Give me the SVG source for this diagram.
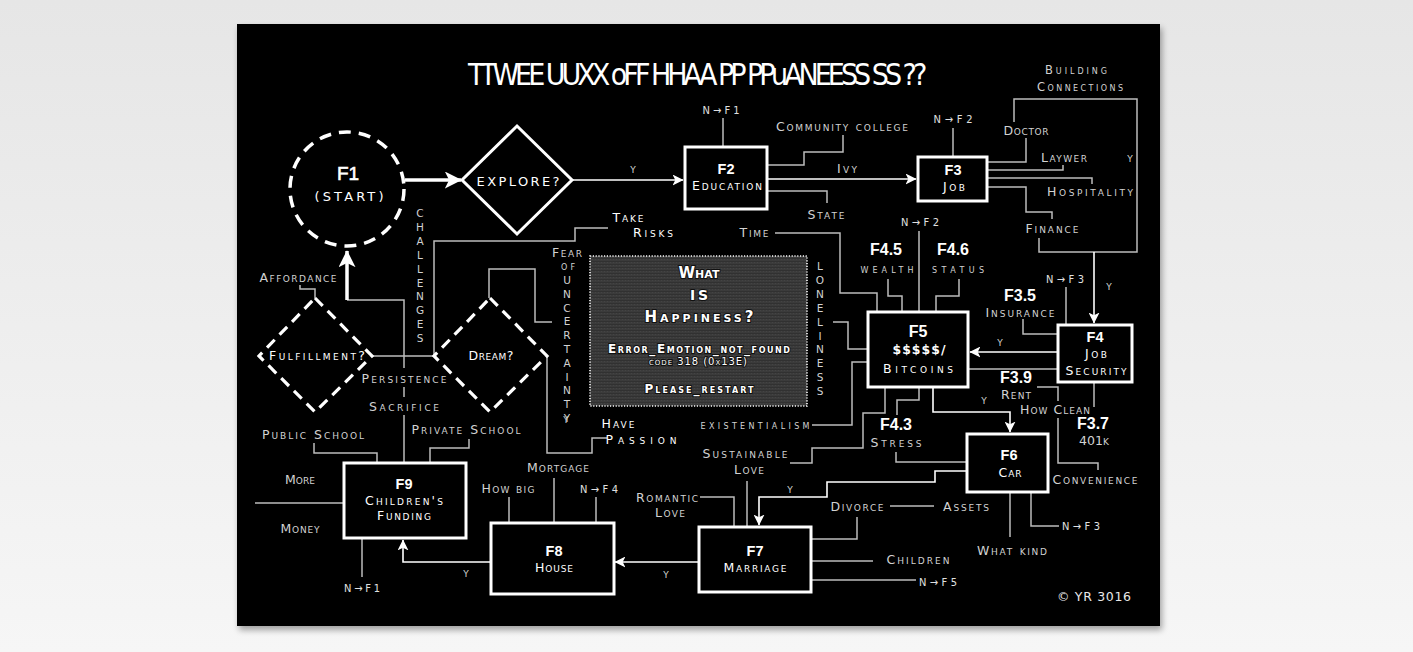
<svg xmlns="http://www.w3.org/2000/svg" width="1413" height="652" viewBox="0 0 1413 652">
<defs>
<linearGradient id="bg" x1="0" y1="0" x2="0" y2="1"><stop offset="0" stop-color="#e6e6e6"/><stop offset="1" stop-color="#f6f6f6"/></linearGradient>
<filter id="sh" x="-5%" y="-5%" width="110%" height="112%"><feGaussianBlur stdDeviation="3"/></filter>
<pattern id="tex" width="3" height="3" patternUnits="userSpaceOnUse"><rect width="3" height="3" fill="#3b3b3b"/><rect width="3" height="1" fill="#313131"/><rect x="1" y="1" width="1" height="1" fill="#444"/></pattern>
<marker id="ah" markerUnits="userSpaceOnUse" viewBox="0 0 10 10" markerWidth="11" markerHeight="11" refX="9.5" refY="5" orient="auto"><path d="M0,0 L10,5 L0,10 L2.5,5 Z" fill="#fff"/></marker>
<marker id="ahb" markerUnits="userSpaceOnUse" viewBox="0 0 10 10" markerWidth="17" markerHeight="17" refX="9.5" refY="5" orient="auto"><path d="M0,0 L10,5 L0,10 L2.5,5 Z" fill="#fff"/></marker>
<style>
.l{font-family:"DejaVu Sans",sans-serif;font-size:12.5px;font-variant:small-caps;fill:#d2d2d2;text-anchor:middle}
.w{fill:#fff}
.b{font-family:"Liberation Sans",Arial,sans-serif;font-weight:bold;font-size:16px;fill:#fff;text-anchor:middle}
.nb{font-family:"Liberation Sans",Arial,sans-serif;font-weight:bold;font-size:14.5px;fill:#fff;text-anchor:middle}
.n{font-family:"DejaVu Sans Condensed","DejaVu Sans",sans-serif;font-size:11px;fill:#e0e0e0;text-anchor:middle}
.v{font-family:"DejaVu Sans",sans-serif;font-size:10.5px;fill:#d2d2d2;text-anchor:middle}
.c{fill:none;stroke:#bcbcbc;stroke-width:1.5}
.a{fill:none;stroke:#fff;stroke-width:1.6;marker-end:url(#ah)}
.ab{fill:none;stroke:#fff;stroke-width:3.5;marker-end:url(#ahb)}
.box{fill:#000;stroke:#fff;stroke-width:3}
.dash{fill:#000;stroke:#fff;stroke-width:3.2;stroke-dasharray:11 7}
.h{font-family:"DejaVu Sans",sans-serif;font-weight:bold;font-variant:small-caps;fill:#fff;text-anchor:middle;stroke:#111;stroke-width:2;paint-order:stroke}
</style>
</defs>
<rect width="1413" height="652" fill="url(#bg)"/>
<rect x="239" y="28" width="923" height="602" fill="#000" opacity="0.35" filter="url(#sh)"/>
<rect x="237" y="24" width="923" height="602" fill="#000"/>

<text x="468" y="85" style="font-family:'DejaVu Sans Condensed','DejaVu Sans',sans-serif;font-size:30px;letter-spacing:-4px;fill:#fff">TTWEE UUXX oFF HHAA PP PPuANEESS SS ??</text>

<g id="connectors">
<path class="c" d="M723,118 V147"/>
<path class="c" d="M767,165 H804 V152 H843 V135"/>
<path class="c" d="M767,191 H827 V203"/>
<path class="c" d="M953,128 V157"/>
<path class="c" d="M987,162 H1026 V138"/>
<path class="c" d="M987,170 H1063 V165"/>
<path class="c" d="M987,178 H1092 V184"/>
<path class="c" d="M987,187 H1026 V212 H1052 V219"/>
<path class="c" d="M1014,122 V99 H1137 V252 H1039 V238"/>
<path class="a" d="M1094,252 V323"/>
<path class="c" d="M1066,287 V325"/>
<path class="c" d="M1023,319 V334 H1058"/>
<path class="a" d="M1058,352 H970"/>
<path class="c" d="M1058,369 H968"/>
<path class="c" d="M1037,387 H1058 V401 M1058,418 V463 H1098 V470"/>
<path class="c" d="M1094,382 V407"/>
<path class="c" d="M775,233 H840 V293 H877 V312"/>
<path class="c" d="M919,231 V312"/>
<path class="c" d="M888,279 V296 H902 V312"/>
<path class="c" d="M959,279 V296 H936 V312"/>
<path class="c" d="M833,322 H848 V349 H868"/>
<path class="c" d="M812,425 H852 V362 H868"/>
<path class="c" d="M790,463 H812 V448 H863 V413 H885 V387"/>
<path class="c" d="M919,387 V400 H897 V415"/>
<path class="c" d="M896,452 V462 H967"/>
<path class="a" d="M933,387 V412 H1010 V432"/>
<path class="a" d="M967,471 H935 V482 H827 V497 H759 V525"/>
<path class="c" d="M700,497 H734 V527"/>
<path class="c" d="M747,481 V527"/>
<path class="c" d="M811,539 H857 V517"/>
<path class="c" d="M890,506 H934"/>
<path class="c" d="M811,561 H873"/>
<path class="c" d="M811,580 H916"/>
<path class="c" d="M1010,492 V537"/>
<path class="c" d="M1031,492 V526 H1059"/>
<path class="a" d="M699,562 H615"/>
<path class="c" d="M509,497 V523"/>
<path class="c" d="M554,478 V523"/>
<path class="c" d="M596,497 V523"/>
<path class="a" d="M491,562 H403 V540"/>
<path class="c" d="M314,443 V453 H377 V463"/>
<path class="c" d="M469,439 V448 H430 V463"/>
<path class="c" d="M255,503 H344"/>
<path class="c" d="M362,538 V577"/>
<path class="c" d="M347,300 H404 V368 M404,387 V397 M404,415 V463"/>
<path class="ab" d="M347,300 V251"/>
<path class="c" d="M300,285 V289 H315 V298"/>
<path class="c" d="M372,356 H434 V241 H575 V228 H608"/>
<path class="c" d="M489,298 V269 H535 V322 H552"/>
<path class="c" d="M547,356 V453 H592 V438 H607"/>
<path class="a" d="M572,180 H683"/>
<path class="a" d="M767,179 H916"/>
<path class="ab" d="M405,180 H461"/>
</g>

<g id="F1"><circle cx="347" cy="189" r="57" fill="#000" stroke="#fff" stroke-width="3.5" stroke-dasharray="12 8"/>
<text x="348" y="180" class="b" style="font-size:19px;font-weight:normal;stroke:#fff;stroke-width:0.6">F1</text>
<text x="349" y="201" class="l w" style="font-size:13px;font-variant:normal" textLength="69">(START)</text></g>

<g id="explore"><polygon points="517,126 572,180 517,234 462,180" fill="#000" stroke="#fff" stroke-width="3"/>
<text x="518" y="186" class="l w" style="font-size:13px;font-variant:normal" textLength="83">EXPLORE?</text></g>

<g id="F2"><rect class="box" x="685" y="147" width="82" height="62"/>
<text x="726" y="174" class="nb">F2</text><text x="727" y="190" class="l w" textLength="70">Education</text></g>

<g id="F3"><rect class="box" x="918" y="157" width="69" height="44"/>
<text x="953" y="175" class="nb">F3</text><text x="954" y="191" class="l w" textLength="22">Job</text></g>

<g id="F4"><rect class="box" x="1058" y="325" width="74" height="57"/>
<text x="1095" y="342" class="nb">F4</text><text x="1096" y="358" class="l w" textLength="22">Job</text><text x="1096" y="375" class="l w" textLength="61">Security</text></g>

<g id="F5"><rect class="box" x="868" y="312" width="100" height="75"/>
<text x="918" y="337" class="b">F5</text><text x="919" y="354" class="l w" style="font-weight:bold" textLength="53">$$$$$/</text><text x="918" y="373" class="l w" textLength="70">Bitcoins</text></g>

<g id="F6"><rect class="box" x="967" y="434" width="81" height="58"/>
<text x="1009" y="460" class="nb">F6</text><text x="1010" y="477" class="l w" textLength="23">Car</text></g>

<g id="F7"><rect class="box" x="699" y="527" width="112" height="65"/>
<text x="755" y="556" class="nb">F7</text><text x="755" y="572" class="l w" textLength="63">Marriage</text></g>

<g id="F8"><rect class="box" x="491" y="523" width="123" height="71"/>
<text x="554" y="556" class="nb">F8</text><text x="554" y="572" class="l w" textLength="38">House</text></g>

<g id="F9"><rect class="box" x="344" y="463" width="122" height="75"/>
<text x="404" y="489" class="nb">F9</text><text x="404" y="505" class="l w" textLength="78">Children's</text><text x="404" y="520" class="l w" textLength="54">Funding</text></g>

<g id="fulfillment"><polygon class="dash" points="315,298 372,356 315,412 259,356"/>
<text x="317" y="360" class="l w" textLength="96">Fulfillment?</text></g>

<g id="dream"><polygon class="dash" points="490,298 547,356 490,412 434,356"/>
<text x="491" y="360" class="l w" textLength="45">Dream?</text></g>

<g id="happiness"><rect x="590" y="256" width="217" height="150" fill="url(#tex)" stroke="#fff" stroke-width="1.6" stroke-dasharray="1.2 1.6"/>
<text x="699" y="278" class="h" style="font-size:15px" textLength="41">What</text>
<text x="699" y="300" class="h" style="font-size:20px" textLength="18">is</text>
<text x="699" y="322" class="h" style="font-size:15px" textLength="109">Happiness?</text>
<text x="699" y="353" class="h" style="font-size:12px" textLength="182">Error_Emotion_not_found</text>
<text x="698" y="365" class="h" style="font-size:10px;font-weight:normal" textLength="98">code 318 (0x13E)</text>
<text x="699" y="393" class="h" style="font-size:12px" textLength="109">Please_restart</text></g>

<g id="labels">
<text x="721" y="114" class="n" textLength="37">N→F1</text>
<text x="842" y="131" class="l" textLength="132">Community college</text>
<text x="633" y="173" class="l" textLength="7">y</text>
<text x="847" y="173" class="l" textLength="20">Ivy</text>
<text x="826" y="219" class="l" textLength="37">State</text>
<text x="754" y="237" class="l" textLength="29">Time</text>
<text x="628" y="222" class="l w" textLength="31">Take</text>
<text x="653" y="237" class="l w" textLength="40">Risks</text>
<text x="953" y="123" class="n" textLength="39">N→F2</text>
<text x="1026" y="135" class="l" textLength="45">Doctor</text>
<text x="1064" y="162" class="l" textLength="46">Laywer</text>
<text x="1090" y="196" class="l" textLength="86">Hospitality</text>
<text x="1052" y="233" class="l" textLength="53">Finance</text>
<text x="1076" y="74" class="l" style="font-size:11.5px" textLength="62">Building</text>
<text x="1080" y="91" class="l" style="font-size:11.5px" textLength="86">Connections</text>
<text x="1130" y="162" class="l" textLength="6">y</text>
<text x="1109" y="290" class="l" textLength="6">y</text>
<text x="920" y="226" class="n" textLength="38">N→F2</text>
<text x="886" y="255" class="b">F4.5</text>
<text x="887" y="273" class="l" style="font-size:11px" textLength="53">wealth</text>
<text x="953" y="255" class="b">F4.6</text>
<text x="958" y="273" class="l" style="font-size:11px" textLength="52">status</text>
<text x="1065" y="283" class="n" textLength="38">N→F3</text>
<text x="1020" y="301" class="b">F3.5</text>
<text x="1020" y="317" class="l" textLength="69">Insurance</text>
<text x="1000" y="346" class="l" textLength="6">y</text>
<text x="1016" y="383" class="b">F3.9</text>
<text x="1016" y="399" class="l" textLength="30">Rent</text>
<text x="1055" y="414" class="l" textLength="70">How Clean</text>
<text x="1093" y="429" class="b">F3.7</text>
<text x="1094" y="445" class="l" textLength="30">401k</text>
<text x="984" y="404" class="l" textLength="6">y</text>
<text x="896" y="430" class="b">F4.3</text>
<text x="896" y="447" class="l" textLength="51">Stress</text>
<text x="755" y="429" class="l" style="font-size:11px" textLength="109">existentialism</text>
<text x="745" y="458" class="l" textLength="85">Sustainable</text>
<text x="749" y="474" class="l" textLength="30">Love</text>
<text x="667" y="502" class="l" textLength="62">Romantic</text>
<text x="670" y="517" class="l" textLength="30">Love</text>
<text x="790" y="493" class="l" textLength="6">y</text>
<text x="857" y="511" class="l" textLength="53">Divorce</text>
<text x="966" y="511" class="l" textLength="46">Assets</text>
<text x="918" y="564" class="l" textLength="63">Children</text>
<text x="938" y="586" class="n" textLength="38">N→F5</text>
<text x="1012" y="555" class="l" textLength="70">What kind</text>
<text x="1081" y="530" class="n" textLength="38">N→F3</text>
<text x="1095" y="484" class="l" textLength="85">Convenience</text>
<text x="1094" y="601" class="l" style="font-variant:normal;fill:#e8e8e8" textLength="74">© YR 3016</text>
<text x="666" y="578" class="l" textLength="6">y</text>
<text x="618" y="428" class="l w" textLength="33">Have</text>
<text x="641" y="444" class="l w" textLength="71">Passion</text>
<text x="566" y="423" class="l" textLength="6">y</text>
<text x="558" y="472" class="l" textLength="62">Mortgage</text>
<text x="508" y="493" class="l" textLength="53">How big</text>
<text x="599" y="493" class="n" textLength="38">N→F4</text>
<text x="466" y="577" class="l" textLength="6">y</text>
<text x="362" y="592" class="n" textLength="36">N→F1</text>
<text x="300" y="484" class="l" textLength="30">More</text>
<text x="300" y="533" class="l" textLength="39">Money</text>
<text x="313" y="439" class="l" textLength="102">Public School</text>
<text x="466" y="434" class="l" textLength="109">Private School</text>
<text x="404" y="383" class="l" textLength="85">Persistence</text>
<text x="404" y="411" class="l" textLength="70">Sacrifice</text>
<text x="298" y="282" class="l" textLength="77">Affordance</text>
<text x="567" y="257" class="l" textLength="30">Fear</text>
<text x="568" y="270" class="l" style="font-size:11px" textLength="14">of</text>
<text class="v"><tspan x="420" y="217">C</tspan><tspan x="420" dy="13.9">H</tspan><tspan x="420" dy="13.9">A</tspan><tspan x="420" dy="13.9">L</tspan><tspan x="420" dy="13.9">L</tspan><tspan x="420" dy="13.9">E</tspan><tspan x="420" dy="13.9">N</tspan><tspan x="420" dy="13.9">G</tspan><tspan x="420" dy="13.9">E</tspan><tspan x="420" dy="13.9">S</tspan></text>
<text class="v"><tspan x="567" y="284">U</tspan><tspan x="567" dy="13.8">N</tspan><tspan x="567" dy="13.8">C</tspan><tspan x="567" dy="13.8">E</tspan><tspan x="567" dy="13.8">R</tspan><tspan x="567" dy="13.8">T</tspan><tspan x="567" dy="13.8">A</tspan><tspan x="567" dy="13.8">I</tspan><tspan x="567" dy="13.8">N</tspan><tspan x="567" dy="13.8">T</tspan><tspan x="567" dy="13.8">Y</tspan></text>
<text class="v"><tspan x="820" y="270">L</tspan><tspan x="820" dy="13.9">O</tspan><tspan x="820" dy="13.9">N</tspan><tspan x="820" dy="13.9">E</tspan><tspan x="820" dy="13.9">L</tspan><tspan x="820" dy="13.9">I</tspan><tspan x="820" dy="13.9">N</tspan><tspan x="820" dy="13.9">E</tspan><tspan x="820" dy="13.9">S</tspan><tspan x="820" dy="13.9">S</tspan></text>
</g>
</svg>
